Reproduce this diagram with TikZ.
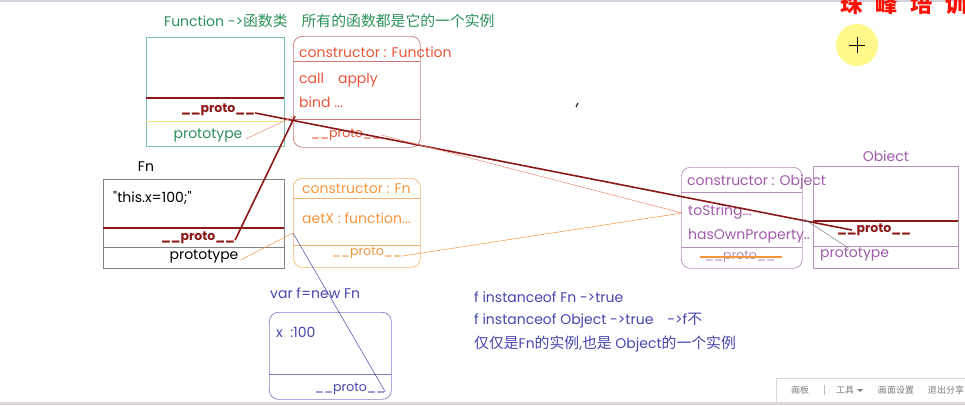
\documentclass[tikz,border=0pt]{standalone}
\usepackage{fontspec}
\setmainfont{Poppins}
\newfontfamily\cjk[Scale=1.06]{Noto Sans CJK SC}
\usetikzlibrary{positioning}
\definecolor{fgreen}{RGB}{45,145,90}
\definecolor{fgbox}{RGB}{120,190,170}
\definecolor{darkred}{RGB}{140,25,25}
\definecolor{fpred}{RGB}{232,85,55}
\definecolor{fpbox}{RGB}{200,120,120}
\definecolor{fnorange}{RGB}{245,150,60}
\definecolor{fnobox}{RGB}{245,180,110}
\definecolor{navy}{RGB}{70,70,175}
\definecolor{opurple}{RGB}{160,90,170}
\definecolor{opbox}{RGB}{185,145,190}
\begin{document}
\begin{tikzpicture}[x=1pt, y=-1pt,
  txt/.style={inner sep=0pt, font=\fontsize{14}{16}\selectfont},
  ptxt/.style={inner sep=0pt, font=\fontsize{12.5}{15}\selectfont},
  btxt/.style={inner sep=0pt, font=\fontsize{12.5}{15}\selectfont\bfseries},
  sbox/.style={draw, line width=0.7pt, inner sep=0pt, anchor=north west},
  pbox/.style={sbox, rounded corners=9pt},
  link/.style={line width=0.5pt},
  heavy/.style={line width=1.6pt, draw=darkred},
  tool/.style={inner sep=0pt, text=gray, font=\cjk\fontsize{8.5}{10}\selectfont}]
  \clip (0,0) rectangle (965,405);
  \fill [white] (0,0) rectangle (965,405);
  \fill [blue!20!gray!30] (0,0) rectangle (965,1.5);
  % Function
  \node [txt, anchor=west, text=fgreen] (title) at (164,21)
        {Function ->{\cjk 函数类}\quad{\cjk 所有的函数都是它的一个实例}};
  \node [sbox, draw=fgbox, minimum width=138, minimum height=109] (funcbox) at (146,37) {};
  \draw [heavy] (146,98) -- (284,98);
  \draw [yellow!60!orange!50, line width=0.8pt] (146,121) -- (284,121);
  \node [btxt, text=darkred] (funcproto) at (218,110) {\_\_proto\_\_};
  \node [txt, text=fgreen] (funcprototype) at (208,136) {prototype};
  % Function.prototype
  \node [pbox, draw=fpbox, minimum width=127, minimum height=111] (fpbox) at (293,36) {};
  \draw [fpbox, line width=0.6pt] (293,61) -- (420,61);
  \draw [fpbox, line width=0.6pt] (293,119) -- (420,119);
  \node [txt, anchor=west, text=fpred] (fpcons) at (299,52) {constructor : Function};
  \node [txt, anchor=west, text=fpred] (fpcall) at (299,80) {call\quad apply};
  \node [txt, anchor=west, text=fpred] (fpbind) at (299,102) {bind ...};
  \node [ptxt, text=fpred] (fpproto) at (346,135) {\_\_proto\_\_};
  % Fn
  \node [sbox, draw=gray, minimum width=181, minimum height=89] (fnbox) at (103,179) {};
  \node [txt, above=7pt of fnbox.north west, xshift=43pt] (fnlabel) {Fn};
  \draw [heavy, line width=1.2pt] (103,228) -- (284,228);
  \draw [gray, line width=0.7pt] (103,247) -- (284,247);
  \node [txt, anchor=west] (fnbody) at (113,198) {\textquotedbl this.x=100;\textquotedbl};
  \node [btxt, text=darkred] (fnproto) at (198,238) {\_\_proto\_\_};
  \node [txt] (fnprototype) at (204,257) {prototype};
  % Fn.prototype
  \node [pbox, draw=fnobox, minimum width=127, minimum height=89] (fnpbox) at (293,178) {};
  \draw [fnobox, line width=0.6pt] (293,198) -- (420,198);
  \draw [fnobox, line width=0.6pt] (293,245) -- (420,245);
  \node [txt, anchor=west, text=fnorange] (fnpcons) at (302,189) {constructor : Fn};
  \node [txt, anchor=west, text=fnorange] (fnpget) at (302,218) {aetX : function...};
  \node [ptxt, text=fnorange] (fnpproto) at (367,253) {\_\_proto\_\_};
  % f
  \node [pbox, draw=navy!70, minimum width=122, minimum height=87] (fbox) at (269,312) {};
  \node [txt, anchor=west, text=navy] (flabel) at (270,293) {var f=new Fn};
  \draw [navy!70, line width=0.6pt] (269,374) -- (391,374);
  \node [txt, anchor=west, text=navy] (fx) at (276,332) {x\ \ :100};
  \node [ptxt, text=navy] (fproto) at (350,389) {\_\_proto\_\_};
  % instanceof
  \node [txt, anchor=west, text=navy] (inst1) at (474,297) {f instanceof Fn ->true};
  \node [txt, anchor=west, text=navy] (inst2) at (474,321) {f instanceof Object ->true\quad ->f{\cjk 不}};
  \node [txt, anchor=west, text=navy] (inst3) at (474,344)
        {{\cjk 仅仅是}Fn{\cjk 的实例},{\cjk 也是} Object{\cjk 的一个实例}};
  % Object.prototype
  \node [pbox, draw=opbox, minimum width=121, minimum height=101] (opbox) at (681,167) {};
  \draw [opbox, line width=0.6pt] (681,192) -- (802,192);
  \draw [opbox, line width=0.6pt] (681,247) -- (802,247);
  \node [txt, anchor=west, text=opurple] (opcons) at (687,182) {constructor : Object};
  \node [txt, anchor=west, text=opurple] (optostr) at (688,212) {toString...};
  \node [txt, anchor=west, text=opurple] (ophas) at (688,236) {hasOwnProperty..};
  \node [ptxt, text=opurple!70] (opproto) at (740,257) {\_\_proto\_\_};
  \draw [fnorange, line width=1.4pt] (700,257) -- (782,257);
  % Object
  \node [sbox, draw=opbox, minimum width=145, minimum height=102] (objbox) at (813,166) {};
  \node [txt, text=opurple, above=4pt of objbox.north] (objlabel) {Obiect};
  \draw [heavy, line width=1.2pt] (813,221) -- (958,221);
  \draw [opbox, line width=0.6pt] (813,246) -- (958,246);
  \node [btxt, text=darkred] (objproto) at (874,230) {\_\_proto\_\_};
  \node [txt, anchor=west, text=opurple] (oprototype) at (820,255) {prototype};
  % verbindungen
  \coordinate (fpin) at (295,116);
  \coordinate (fnpin) at (293,233);
  \coordinate (opin) at (682,213);
  \coordinate (opout) at (804,219);
  \draw [heavy] ([yshift=-3pt]funcproto.east) -- ([xshift=15pt]objproto.west);
  \draw [heavy] ([yshift=-2pt]fnproto.east) -- (fpin);
  \draw [link, draw=fpred!70] ([xshift=3pt,yshift=-3pt]funcprototype.east) -- (fpin);
  \draw [link, draw=fpred!70] (fpproto.east) -- (opin);
  \draw [link, draw=fnorange] ([xshift=2pt,yshift=-3pt]fnprototype.east) -- (fnpin);
  \draw [link, draw=fnorange] ([yshift=-3pt]fnpproto.east) -- (opin);
  \draw [link, draw=navy] (fnpin) -- ([yshift=-3pt]fproto.east);
  \draw [link, draw=gray] (opout) -- ([xshift=-6pt]oprototype.north);
  \draw [line width=1pt] (576,107) -- (578,103);
  % rand
  \node [anchor=base west, inner sep=0pt, text=red!90!orange,
         font=\cjk\fontsize{21}{22}\selectfont\bfseries] (brand) at (840,12)
        {珠\hspace{13pt}峰\hspace{13pt}培\hspace{13pt}训};
  \fill [yellow!45] (857,45) circle (21pt);
  \draw [line width=0.4pt] (849,45) -- (865,45) (857,37) -- (857,53);
  \draw [gray!30, fill=white] (776,378) rectangle (970,402);
  \node [tool] (tb1) at (800,390) {画板};
  \draw [gray!50] (824,385) -- (824,395);
  \node [tool] (tb2) at (845,390) {工具};
  \fill [gray] (857,389) -- (863,389) -- (860,392) -- cycle;
  \node [tool] (tb3) at (896,390) {画面设置};
  \node [tool] (tb4) at (946,390) {退出分享};
  \fill [red!10!gray!30] (0,402) rectangle (965,405);
\end{tikzpicture}
\end{document}
